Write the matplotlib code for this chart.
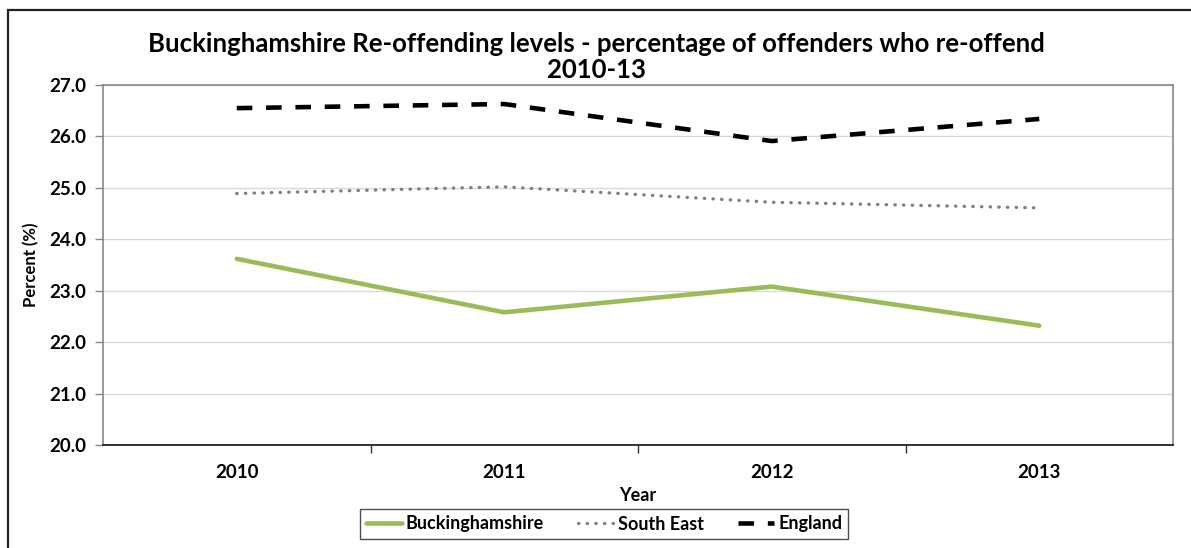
import matplotlib
matplotlib.use("Agg")
import matplotlib.pyplot as plt
from matplotlib.patches import Rectangle

years = ["2010", "2011", "2012", "2013"]
buckinghamshire = [23.62, 22.58, 23.08, 22.32]
south_east = [24.89, 25.02, 24.72, 24.61]
england = [26.55, 26.63, 25.91, 26.34]
y_ticks = [20.0, 21.0, 22.0, 23.0, 24.0, 25.0, 26.0, 27.0]

plt.rcParams['font.family'] = ['Lato', 'DejaVu Sans']
plt.rcParams['font.weight'] = 'bold'

fig = plt.figure(figsize=(11.91, 5.48), dpi=100)
ax = fig.add_axes([103/1191, 1-445/548, (1173-103)/1191, (445-85)/548])

x = list(range(len(years)))
ax.plot(x, buckinghamshire, color='#9BBB59', lw=3.3, solid_capstyle='round', label='Buckinghamshire')
ax.plot(x, south_east, color='#7F7F7F', lw=2.4, linestyle=(0, (0.1, 2.5)), dash_capstyle='round', label='South East')
ax.plot(x, england, color='black', lw=3.3, linestyle=(0, (3.4, 3.0)), label='England')

ax.set_xlim(-0.5, len(years) - 0.5)
ax.set_ylim(20, 27)
ax.set_yticks(y_ticks)
ax.set_yticklabels([f"{v:.1f}" for v in y_ticks], fontsize=13.5, fontweight='bold')
ax.set_xticks(x)
ax.set_xticklabels(years, fontsize=13.5, fontweight='bold')
ax.set_xticks([i + 0.5 for i in range(len(years) - 1)], minor=True)
ax.tick_params(axis='x', which='major', length=0, pad=14)
ax.tick_params(axis='x', which='minor', length=6, width=1, color='#333333', direction='out')
ax.tick_params(axis='y', length=6, width=1, color='#888888', direction='out', pad=6)

ax.grid(axis='y', color='#D9D9D9', lw=1)
ax.set_axisbelow(True)
for s in ['top', 'right', 'left']:
    ax.spines[s].set_color('#888888')
    ax.spines[s].set_linewidth(1.2)
ax.spines['bottom'].set_color('#222222')
ax.spines['bottom'].set_linewidth(1.3)

ax.set_xlabel('Year', fontsize=13, fontweight='bold', labelpad=4)
ax.set_ylabel('Percent (%)', fontsize=12, fontweight='bold', labelpad=7)

fig.text(596/1191, 1-57/548,
         'Buckinghamshire Re-offending levels - percentage of offenders who re-offend\n2010-13',
         ha='center', va='center', fontsize=18.5, fontweight='bold', linespacing=1.1)

leg = ax.legend(loc='center', bbox_to_anchor=(604/1191, 1-524/548), bbox_transform=fig.transFigure,
                ncol=3, frameon=True, fancybox=False, edgecolor='#222222', fontsize=13,
                handlelength=2.0, handletextpad=0.2, columnspacing=1.9, borderpad=0.35)
leg.get_frame().set_linewidth(1.0)

# outer chart frame (extends past the image edges)
fig.patches.append(Rectangle((8/1191, -0.1), 1.2, 1 - 10/548 + 0.1, transform=fig.transFigure,
                             fill=False, edgecolor='#222222', lw=1.6))

fig.savefig('out.png', dpi=100)
